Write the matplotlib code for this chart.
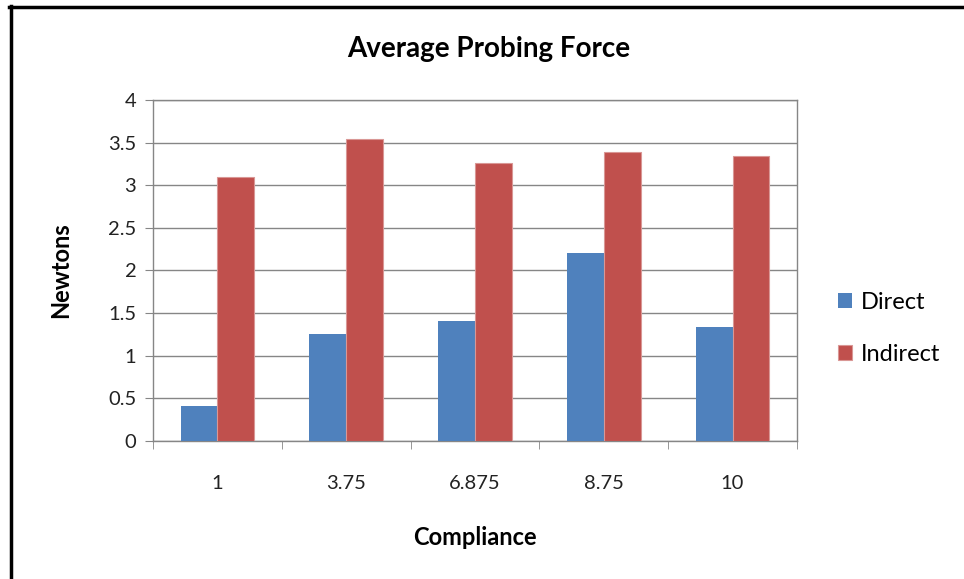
import matplotlib.pyplot as plt
import numpy as np

# data
compliance = ['1', '3.75', '6.875', '8.75', '10']
direct = [0.41, 1.25, 1.40, 2.20, 1.33]
indirect = [3.09, 3.54, 3.26, 3.39, 3.34]

plt.rcParams['font.family'] = ['Lato', 'DejaVu Sans']

fig = plt.figure(figsize=(9.64, 5.79), dpi=100)
ax = fig.add_axes([0.1587, 0.2389, 0.668, 0.5884])

x = np.arange(len(compliance))
w = 1 / 3.5
ax.bar(x - w / 2, direct, w, color='#4F81BD', label='Direct', zorder=3)
ax.bar(x + w / 2, indirect, w, color='#C0504D', edgecolor='#D99795',
       linewidth=0.8, label='Indirect', zorder=3)

ax.set_xlim(-0.5, len(compliance) - 0.5)
ax.set_ylim(0, 4)
ax.set_yticks(np.arange(0, 4.01, 0.5))
ax.set_yticklabels(['0', '0.5', '1', '1.5', '2', '2.5', '3', '3.5', '4'])
ax.set_xticks(x)
ax.set_xticklabels(compliance)
ax.set_xticks(np.arange(-0.5, len(compliance), 1), minor=True)

ax.tick_params(axis='x', which='major', length=0, pad=25, labelsize=14.5,
               labelcolor='#222222')
ax.tick_params(axis='x', which='minor', length=6, color='#868686')
ax.tick_params(axis='y', length=6, color='#868686', labelsize=14.5,
               labelcolor='#222222', pad=6)

ax.grid(axis='y', color='#868686', linewidth=1, zorder=0)
for s in ax.spines.values():
    s.set_color('#868686')
    s.set_linewidth(1)

# title is centred on the whole chart, not the plot area
fig.text(0.507, 0.915, 'Average Probing Force', fontsize=20,
         fontweight='bold', ha='center', va='center')
ax.set_xlabel('Compliance', fontsize=17, fontweight='bold', labelpad=24)
ax.set_ylabel('Newtons', fontsize=17, fontweight='bold', labelpad=26)

ax.legend(loc='center left', bbox_to_anchor=(1.03, 0.33), frameon=False,
          fontsize=17, handlelength=0.6, handleheight=0.6, labelspacing=1.3,
          handletextpad=0.4)

# chart frame lines (left and top)
fig.add_artist(plt.Line2D([0.0109, 0.0109], [0, 0.99], color='black',
                          linewidth=2.5, transform=fig.transFigure))
fig.add_artist(plt.Line2D([0.0096, 1.0], [0.9879, 0.9879], color='black',
                          linewidth=2.5, transform=fig.transFigure))

plt.savefig('out.png', dpi=100)
